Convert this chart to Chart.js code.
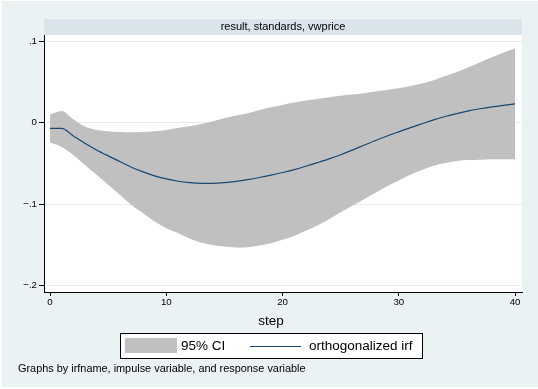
<!DOCTYPE html>
<html>
<head>
<meta charset="utf-8">
<script src="https://cdn.jsdelivr.net/npm/chart.js@4/dist/chart.umd.min.js"></script>
<style>
  html, body { margin: 0; padding: 0; background: #fff; }
  canvas { display: block; }
</style>
</head>
<body>
<canvas id="irfChart" width="538" height="389"></canvas>
<script>
    "use strict";

    // Data
    var steps = [0, 1, 2, 3, 4, 5, 6, 7, 8, 9, 10, 11, 12, 13, 14, 15, 16, 17, 18, 19, 20,
                 21, 22, 23, 24, 25, 26, 27, 28, 29, 30, 31, 32, 33, 34, 35, 36, 37, 38, 39, 40];
    var irf = [-0.0072, -0.0072, -0.0163, -0.0253, -0.0335, -0.0408, -0.0478, -0.0547, -0.0604, -0.0653,
               -0.0690, -0.0719, -0.0737, -0.0745, -0.0745, -0.0737, -0.0721, -0.0699, -0.0673, -0.0644,
               -0.0612, -0.0576, -0.0535, -0.0491, -0.0445, -0.0394, -0.0337, -0.0278, -0.0220, -0.0165,
               -0.0113, -0.0062, -0.0014, 0.0033, 0.0075, 0.0111, 0.0143, 0.0170, 0.0193, 0.0212, 0.0229];
    var ciUpper = [0.0098, 0.0143, 0.0042, -0.0049, -0.0090, -0.0106, -0.0114, -0.0118, -0.0114, -0.0106,
                   -0.0090, -0.0065, -0.0046, -0.0016, 0.0017, 0.0054, 0.0086, 0.0115, 0.0155, 0.0187,
                   0.0217, 0.0245, 0.0270, 0.0290, 0.0310, 0.0330, 0.0345, 0.0360, 0.0380, 0.0400,
                   0.0420, 0.0450, 0.0480, 0.0520, 0.0570, 0.0620, 0.0680, 0.0740, 0.0800, 0.0860, 0.0910];
    var ciLower = [-0.0245, -0.0298, -0.0396, -0.0520, -0.0640, -0.0763, -0.0886, -0.1009, -0.1110, -0.1213,
                   -0.1294, -0.1355, -0.1420, -0.1470, -0.1500, -0.1520, -0.1530, -0.1527, -0.1507, -0.1480,
                   -0.1437, -0.1389, -0.1327, -0.1262, -0.1184, -0.1100, -0.1020, -0.0940, -0.0860, -0.0780,
                   -0.0710, -0.0640, -0.0580, -0.0530, -0.0495, -0.0470, -0.0460, -0.0455, -0.0450, -0.0450, -0.0450];

    var xTicks = [0, 10, 20, 30, 40];
    var yTicks = [-0.2, -0.1, 0, 0.1];
    var yTickLabels = ['\u2212.2', '\u2212.1', '0', '.1'];

    var stripTitle = 'result, standards, vwprice';
    var xTitle = 'step';
    var legendLabels = ['95% CI', 'orthogonalized irf'];
    var note = 'Graphs by irfname, impulse variable, and response variable';

    var FONT = "'Liberation Sans', Arial, sans-serif";
    var BAND = '#c0c0c0';
    var NAVY = '#1a476f';

    function pts(ys) {
        return steps.map(function (s, i) { return {x: s, y: ys[i]}; });
    }

    // Stata-like frame: outer background, subtitle strip, white plot region, texts, legend
    var frame = {
        id: 'frame',
        beforeDraw: function (chart) {
            var c = chart.ctx, a = chart.chartArea;
            c.save();
            c.fillStyle = '#eaf2f3';
            c.fillRect(2, 1, chart.width - 2, chart.height - 3);
            c.fillStyle = '#d9e5eb';
            c.fillRect(a.left, 19, a.right - a.left, a.top - 19);
            c.fillStyle = '#ffffff';
            c.fillRect(a.left, a.top, a.right - a.left, a.bottom - a.top);
            c.restore();
        },
        afterDraw: function (chart) {
            var c = chart.ctx, a = chart.chartArea;
            c.save();
            c.fillStyle = '#000';
            c.textBaseline = 'middle';

            c.font = '11px ' + FONT;
            c.textAlign = 'center';
            c.fillText(stripTitle, (a.left + a.right) / 2, 27);

            c.font = '13.5px ' + FONT;
            c.fillText(xTitle, 271, 321);

            // legend box
            c.fillStyle = '#fff';
            c.fillRect(120, 333.5, 302, 25);
            c.strokeStyle = '#000';
            c.lineWidth = 1;
            c.strokeRect(120.5, 333.5, 302, 25);
            c.fillStyle = BAND;
            c.fillRect(125, 338, 52, 15);
            c.strokeStyle = NAVY;
            c.lineWidth = 1.2;
            c.beginPath();
            c.moveTo(250, 346.5);
            c.lineTo(301, 346.5);
            c.stroke();
            c.fillStyle = '#000';
            c.textAlign = 'left';
            c.font = '13.5px ' + FONT;
            c.fillText(legendLabels[0], 181, 346.5);
            c.fillText(legendLabels[1], 309, 346.5);

            c.font = '10.9px ' + FONT;
            c.fillText(note, 18, 369);
            c.restore();
        }
    };

    var ctx = document.getElementById('irfChart').getContext('2d');
    new Chart(ctx, {
        type: 'line',
        data: {
            datasets: [
                {
                    label: legendLabels[1],
                    data: pts(irf),
                    borderColor: NAVY,
                    borderWidth: 1.2,
                    pointRadius: 0,
                    fill: false,
                    cubicInterpolationMode: 'monotone',
                    order: 0
                },
                {
                    label: 'lower',
                    data: pts(ciLower),
                    borderWidth: 0,
                    borderColor: BAND,
                    pointRadius: 0,
                    fill: false,
                    cubicInterpolationMode: 'monotone',
                    order: 1
                },
                {
                    label: legendLabels[0],
                    data: pts(ciUpper),
                    borderWidth: 0,
                    borderColor: BAND,
                    backgroundColor: BAND,
                    pointRadius: 0,
                    fill: '-1',
                    cubicInterpolationMode: 'monotone',
                    order: 1
                }
            ]
        },
        options: {
            responsive: false,
            animation: false,
            devicePixelRatio: 1,
            layout: {padding: {left: 0, top: 35, right: 16, bottom: 0}},
            plugins: {
                legend: {display: false},
                tooltip: {enabled: false}
            },
            scales: {
                x: {
                    type: 'linear',
                    min: -0.52,
                    max: 40.6,
                    afterFit: function (scale) { scale.height = 97; },
                    afterBuildTicks: function (scale) {
                        scale.ticks = xTicks.map(function (v) { return {value: v}; });
                    },
                    border: {color: '#000', width: 1},
                    grid: {drawOnChartArea: false, tickColor: '#000', tickLength: 4},
                    ticks: {
                        padding: 1,
                        maxRotation: 0,
                        color: '#000',
                        font: {family: FONT, size: 9.7}
                    }
                },
                y: {
                    type: 'linear',
                    min: -0.2077,
                    max: 0.1074,
                    afterFit: function (scale) { scale.width = 44; },
                    afterBuildTicks: function (scale) {
                        scale.ticks = yTicks.map(function (v) { return {value: v}; });
                    },
                    border: {color: '#000', width: 1},
                    grid: {color: '#e4eded', tickColor: '#000', tickLength: 5, lineWidth: 1},
                    ticks: {
                        padding: 2,
                        color: '#000',
                        font: {family: FONT, size: 9.7},
                        callback: function (v) {
                            var i = yTicks.indexOf(v);
                            return i >= 0 ? yTickLabels[i] : '';
                        }
                    }
                }
            }
        },
        plugins: [frame]
    });
</script>
</body>
</html>
